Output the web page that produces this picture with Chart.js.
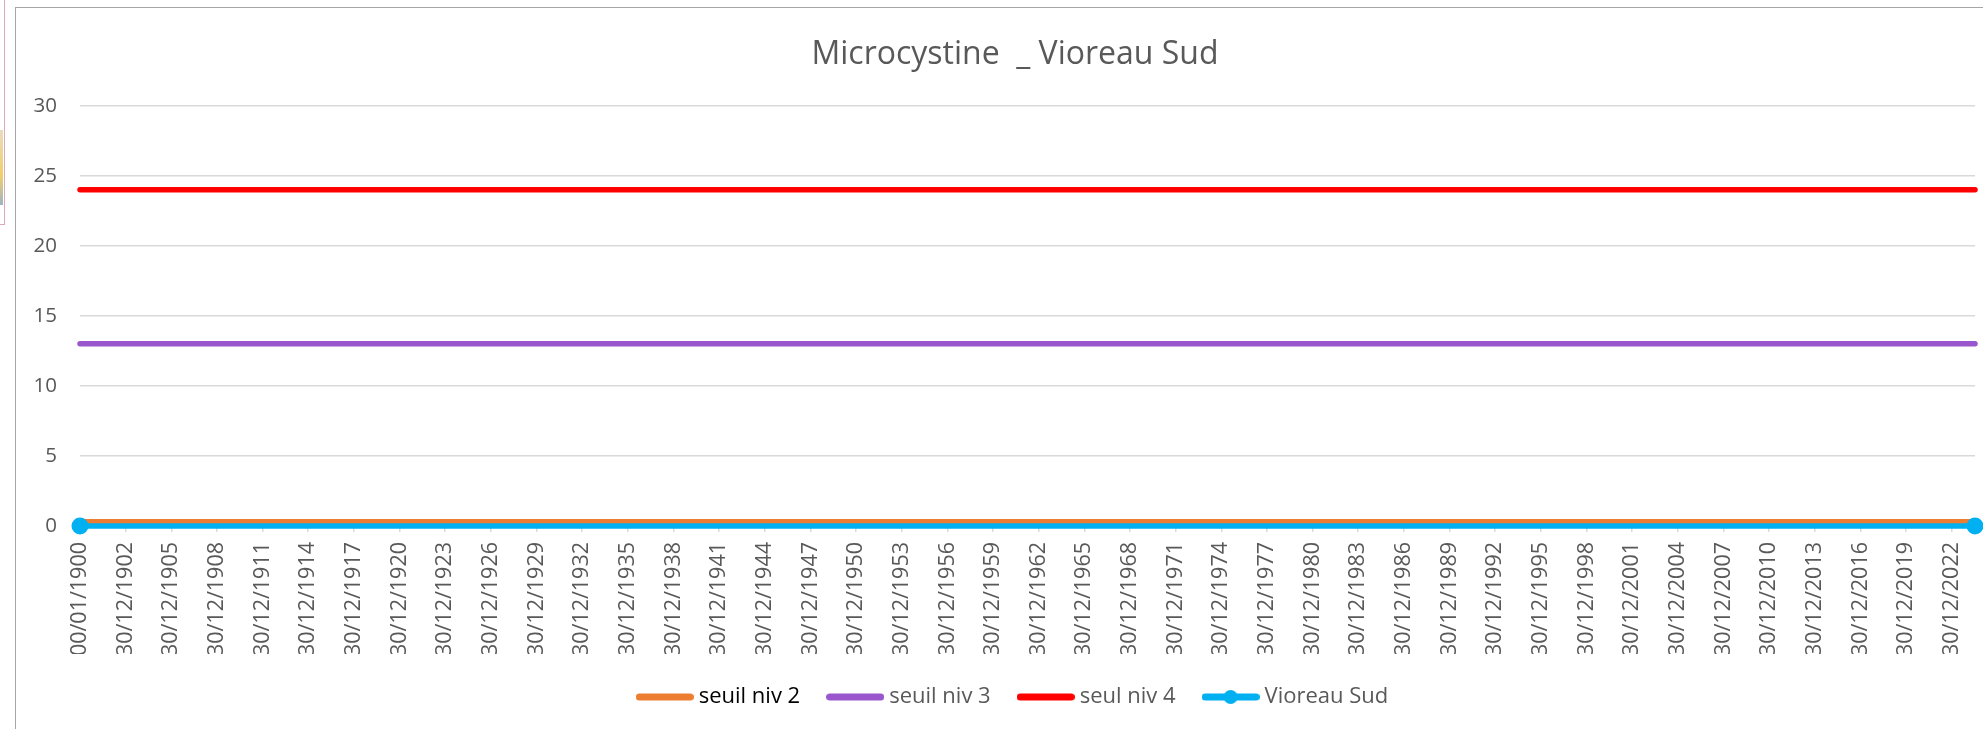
<!DOCTYPE html>
<html>
<head>
<meta charset="utf-8">
<title>Microcystine _ Vioreau Sud</title>
<script src="https://cdn.jsdelivr.net/npm/chart.js@4"></script>
<style>
  html, body { margin: 0; padding: 0; background: #fff; overflow: hidden; }
  body { width: 1983px; height: 729px; position: relative; }
  .frame { position: absolute; left: 15px; top: 7px; width: 2100px; height: 800px;
           border-left: 1px solid #a6a6a6; border-top: 1px solid #a6a6a6; }
  .side { position: absolute; left: 0; top: -1px; width: 4px; height: 225px;
          border-right: 1px solid #dca9b9; border-bottom: 1px solid #dca9b9; }
  .side-bits { position: absolute; left: 0; top: 130px; width: 3px; height: 75px;
               background: linear-gradient(#e8dcc0, #f2cf6a 60%, #9fb3c4); }
  #myChart { position: absolute; left: 16px; top: 8px; }
</style>
</head>
<body>
<div class="side"></div>
<div class="side-bits"></div>
<div class="frame"></div>
<canvas id="myChart" width="1998" height="710"></canvas>
<script>
// x values are Excel date serials (0 = "00/01/1900", i.e. empty date cell)
const dateSerials = [0, 45484];
const seuilNiv2 = [0.3, 0.3];
const seuilNiv3 = [13, 13];
const seuilNiv4 = [24, 24];
const vioreauSud = [0, 0];

const tickLabels = [
  "00/01/1900", "30/12/1902", "30/12/1905", "30/12/1908", "30/12/1911", "30/12/1914",
  "30/12/1917", "30/12/1920", "30/12/1923", "30/12/1926", "30/12/1929", "30/12/1932",
  "30/12/1935", "30/12/1938", "30/12/1941", "30/12/1944", "30/12/1947", "30/12/1950",
  "30/12/1953", "30/12/1956", "30/12/1959", "30/12/1962", "30/12/1965", "30/12/1968",
  "30/12/1971", "30/12/1974", "30/12/1977", "30/12/1980", "30/12/1983", "30/12/1986",
  "30/12/1989", "30/12/1992", "30/12/1995", "30/12/1998", "30/12/2001", "30/12/2004",
  "30/12/2007", "30/12/2010", "30/12/2013", "30/12/2016", "30/12/2019", "30/12/2022"
];

function toSerial(label) {
  const [d, m, y] = label.split("/").map(Number);
  if (d === 0) return 0;
  return Math.round((Date.UTC(y, m - 1, d) - Date.UTC(1899, 11, 30)) / 86400000);
}
const tickSerials = tickLabels.map(toSerial);

const pts = (ys) => dateSerials.map((x, i) => ({ x: x, y: ys[i] }));

// legend sample: short thick line, with a dot for the measured series
function legendSample(color, withDot) {
  const c = document.createElement("canvas");
  c.width = 58;
  c.height = 16;
  const g = c.getContext("2d");
  g.strokeStyle = color;
  g.lineWidth = 7;
  g.lineCap = "round";
  g.beginPath();
  g.moveTo(3.5, 8);
  g.lineTo(54.5, 8);
  g.stroke();
  if (withDot) {
    g.fillStyle = color;
    g.beginPath();
    g.arc(29, 8, 7, 0, Math.PI * 2);
    g.fill();
  }
  return c;
}

Chart.defaults.font.family = "'Open Sans', sans-serif";

var data = {
  datasets: [
    {
      label: "seuil niv 2",
      data: pts(seuilNiv2),
      borderColor: "#ED7D31",
      backgroundColor: "#ED7D31",
      borderWidth: 5.5,
      borderCapStyle: "round",
      pointRadius: 0,
      order: 4,
      clip: false,
    },
    {
      label: "seuil niv 3",
      data: pts(seuilNiv3),
      borderColor: "#9A57CD",
      backgroundColor: "#9A57CD",
      borderWidth: 5.5,
      borderCapStyle: "round",
      pointRadius: 0,
      order: 3,
      clip: false,
    },
    {
      label: "seul niv 4",
      data: pts(seuilNiv4),
      borderColor: "#FF0000",
      backgroundColor: "#FF0000",
      borderWidth: 5.5,
      borderCapStyle: "round",
      pointRadius: 0,
      order: 2,
      clip: false,
    },
    {
      label: "Vioreau Sud",
      data: pts(vioreauSud),
      borderColor: "#00B0F0",
      backgroundColor: "#00B0F0",
      borderWidth: 5.5,
      pointRadius: 8.5,
      pointBorderWidth: 0,
      order: 1,
      clip: false,
    },
  ],
};

var options = {
  responsive: false,
  animation: false,
  layout: { padding: 0 },
  plugins: {
    title: {
      display: true,
      text: "Microcystine  _ Vioreau Sud",
      color: "#595959",
      font: { size: 32, weight: "normal", lineHeight: 1.2 },
      padding: { top: 27.5, bottom: 31.8 },
    },
    legend: {
      position: "bottom",
      labels: {
        usePointStyle: true,
        pointStyleWidth: 46,
        padding: 32,
        color: "#595959",
        font: { size: 22 },
        generateLabels: (chart) =>
          chart.data.datasets.map((ds, i) => ({
            text: ds.label,
            fontColor: i === 0 ? "#000000" : "#595959",
            pointStyle: legendSample(ds.borderColor, i === 3),
            fillStyle: "rgba(0,0,0,0)",
            strokeStyle: "rgba(0,0,0,0)",
            lineWidth: 0,
            hidden: false,
            datasetIndex: i,
          })),
      },
    },
    tooltip: { enabled: false },
  },
  scales: {
    x: {
      type: "linear",
      min: 0,
      max: dateSerials[dateSerials.length - 1],
      afterBuildTicks: (s) => {
        s.ticks = tickSerials.map((v) => ({ value: v }));
      },
      afterFit: (s) => {
        s.height = 128;
      },
      grid: { drawOnChartArea: false, drawTicks: true, tickLength: 6, color: "#D9D9D9", lineWidth: 1.5 },
      border: { color: "#D9D9D9", width: 1.5 },
      ticks: {
        autoSkip: false,
        minRotation: 90,
        maxRotation: 90,
        padding: 10,
        color: "#595959",
        font: { size: 21.5 },
        callback: (v, i) => tickLabels[i],
      },
    },
    y: {
      min: 0,
      max: 30,
      afterFit: (s) => {
        s.width = 64;
      },
      grid: { color: "#D9D9D9", lineWidth: 1.5, drawTicks: false },
      border: { display: false },
      ticks: { stepSize: 5, padding: 23, color: "#595959", font: { size: 20.5 } },
    },
    y2: {
      position: "right",
      min: 0,
      max: 30,
      afterFit: (s) => {
        s.width = 39;
      },
      grid: { display: false },
      border: { display: false },
      ticks: { display: false },
    },
  },
};

const ctx = document.getElementById("myChart").getContext("2d");
const myChart = new Chart(ctx, {
  type: "line",
  data: data,
  options: options,
});
</script>
</body>
</html>
